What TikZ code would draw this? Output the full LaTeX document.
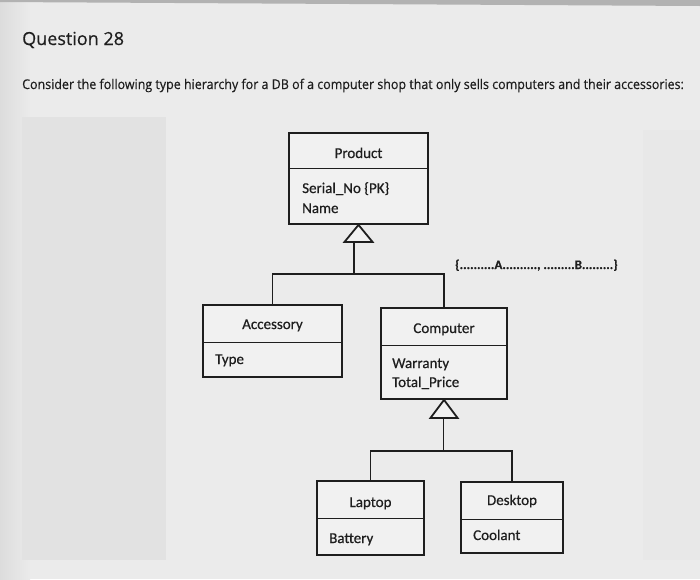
\documentclass[tikz,border=0pt]{standalone}
\usepackage{fontspec}
\setmainfont[FakeBold=0.5]{Carlito}
\newfontfamily\headfont[FakeBold=0.4]{Open Sans}
\definecolor{bgmain}{HTML}{EBEBEB}
\definecolor{bgedge}{HTML}{DCDCDC}
\definecolor{bgleft}{HTML}{E2E2E2}
\definecolor{bgright}{HTML}{E8E8E8}
\definecolor{boxfill}{HTML}{F1F1F1}
\definecolor{ink}{HTML}{1E1E1E}
\tikzset{
  cls/.style={draw=ink, line width=1.8pt, fill=boxfill, inner sep=0pt},
  divider/.style={draw=ink, line width=0.9pt},
  link/.style={draw=ink, line width=1.2pt},
  tri/.style={draw=ink, line width=1.8pt, fill=boxfill, line join=miter},
  cname/.style={font=\fontsize{15}{18}\selectfont, text=ink, inner sep=0pt, anchor=base},
  cattr/.style={font=\fontsize{15}{18}\selectfont, text=ink, inner sep=0pt, anchor=base west},
}
\begin{document}
\begin{tikzpicture}[x=1pt,y=-1pt]
\useasboundingbox (0,0) rectangle (700,579);
\fill[bgmain] (0,0) rectangle (700,579);
\fill[left color=bgedge, right color=bgmain] (0,0) rectangle (30,579);
\fill[bgleft] (22,117) rectangle (166,560);
\fill[bgright] (643,130) rectangle (700,560);
\fill[gray!60] (0,0) -- (700,0) -- (700,6) -- (0,2) -- cycle;

\node[font=\headfont\fontsize{18}{21}\selectfont, text=ink, anchor=base west, inner sep=0pt] (q) at (22,45) {Question 28};
\node[font=\headfont\fontsize{13.4}{15}\selectfont, text=ink, anchor=base west, inner sep=0pt, xscale=0.93] (intro) at (22,89) {Consider the following type hierarchy for a DB of a computer shop that only sells computers and their accessories:};

% Product
\node[cls, minimum width=139pt, minimum height=91pt] (product) at (358.5,178.5) {};
\draw[divider] (product.west |- 0,168) -- (product.east |- 0,168);
\node[cname] (productn) at (358.5,158) {Product};
\node[cattr] (producta1) at (302,193) {Serial\_No \{PK\}};
\node[cattr] (producta2) at (302,213) {Name};

% Accessory
\node[cls, minimum width=139pt, minimum height=72pt] (acc) at (272.5,341) {};
\draw[divider] (acc.west |- 0,342) -- (acc.east |- 0,342);
\node[cname] (accn) at (272.5,329) {Accessory};
\node[cattr] (acca) at (215,364) {Type};

% Computer
\node[cls, minimum width=126pt, minimum height=91pt] (comp) at (444,353.5) {};
\draw[divider] (comp.west |- 0,345) -- (comp.east |- 0,345);
\node[cname] (compn) at (444,333) {Computer};
\node[cattr] (compa1) at (392,368) {Warranty};
\node[cattr] (compa2) at (392,387) {Total\_Price};

% Laptop
\node[cls, minimum width=107pt, minimum height=74pt] (lap) at (370.5,518) {};
\draw[divider] (lap.west |- 0,518) -- (lap.east |- 0,518);
\node[cname] (lapn) at (370.5,507) {Laptop};
\node[cattr] (lapa) at (329,543) {Battery};

% Desktop
\node[cls, minimum width=102pt, minimum height=71pt] (desk) at (512,517.5) {};
\draw[divider] (desk.west |- 0,519) -- (desk.east |- 0,519);
\node[cname] (deskn) at (512,505) {Desktop};
\node[cattr] (deska) at (473,540) {Coolant};

% constraint label
\node[font=\fontsize{13}{15}\selectfont\bfseries, text=ink, anchor=base west, inner sep=0pt] (cons) at (455,269) {\{..........A..........,\ .........B.........\}};

% inheritance 1
\coordinate (t1) at (354,243);
\coordinate (j1) at (354,274);
\draw[link] (t1) -- (j1);
\draw[link] (j1) -| (acc.north);
\draw[link] (j1) -| (comp.north);
\draw[tri] (product.south) -- ++(-14,17) -- ++(28,0) -- cycle;

% inheritance 2
\coordinate (t2) at (443.5,418);
\coordinate (j2) at (443.5,451);
\draw[link] (t2) -- (j2);
\draw[link] (j2) -| (lap.north);
\draw[link] (j2) -| (desk.north);
\draw[tri] (comp.south) -- ++(-13.5,18) -- ++(27,0) -- cycle;
\end{tikzpicture}
\end{document}
